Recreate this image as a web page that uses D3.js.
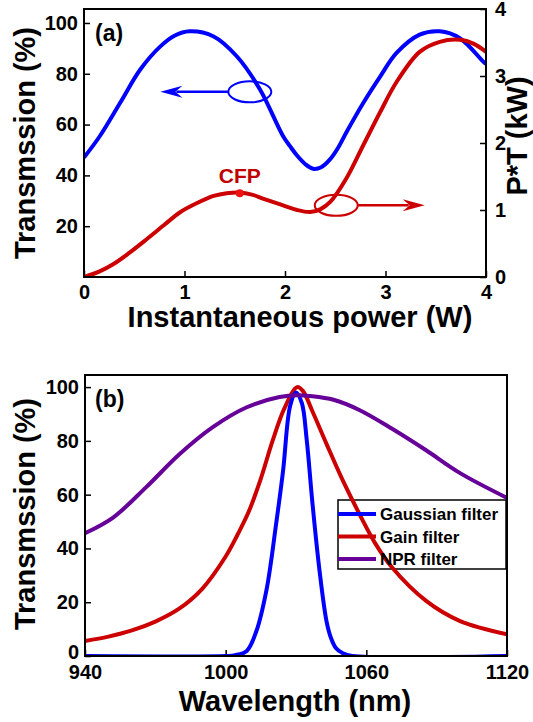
<!DOCTYPE html>
<html>
<head>
<meta charset="utf-8">
<script src="https://cdn.jsdelivr.net/npm/d3@7"></script>
<style>
  body { margin: 0; background: #fff; }
  text { font-family: 'Liberation Sans', Arial, sans-serif; font-weight: bold; }
</style>
</head>
<body>
<div id="chart"></div>
<script>
// ---- panel (a) data: transmission (%) and P*T (kW) vs instantaneous power (W)
const powerT = [0, 0.16, 0.36, 0.56, 0.76, 0.9, 1.05, 1.29, 1.52, 1.75, 1.98, 2.05, 2.12, 2.2, 2.28, 2.36, 2.45, 2.53, 2.61, 2.78, 2.95, 3.11, 3.34, 3.54, 3.74, 3.97, 4.0]
const transA = [47, 55.6, 68.6, 81.7, 90.8, 95, 96.7, 94.7, 86.9, 73.9, 55.5, 51.5, 47.8, 44.5, 42.6, 43.2, 46.4, 51, 56.9, 68.6, 79.1, 88.2, 95.4, 96.7, 94, 84.9, 83.8]

const powerPT = [0, 0.15, 0.29, 0.45, 0.62, 0.8, 0.96, 1.12, 1.29, 1.42, 1.55, 1.67, 1.78, 1.98, 2.12, 2.25, 2.35, 2.45, 2.61, 2.78, 2.95, 3.11, 3.34, 3.54, 3.74, 3.88, 4.0]
const ptKW = [0, 0.08, 0.19, 0.36, 0.56, 0.78, 0.97, 1.1, 1.21, 1.25, 1.26, 1.23, 1.17, 1.07, 1.0, 0.97, 1.01, 1.12, 1.47, 1.97, 2.47, 2.91, 3.36, 3.51, 3.54, 3.48, 3.36]

const cfp = { power: 1.55, kw: 1.25, label: 'CFP' }
// annotation ellipses (data units) and where their arrows point
const blueMark = { power: 1.65, trans: 72.9, tip: 0.76 }
const redMark = { power: 2.51, kw: 1.07, tip: 3.39 }

// ---- panel (b) data: filter transmission (%) vs wavelength (nm)
const gaussWl = [940, 1000, 1004, 1009, 1013, 1017.5, 1021.5, 1024.5, 1027.5, 1030, 1032.5, 1034.5, 1037, 1040, 1043, 1045, 1047, 1050, 1054, 1120]
const gaussT = [0, 0, 0.3, 1.9, 9, 25, 49, 69, 93, 98, 94, 81, 57, 32, 13, 6.5, 3, 1, 0, 0]

const gainWl = [940, 950, 960, 970, 980, 990, 1000, 1005, 1010, 1015, 1020, 1025, 1030.5, 1033, 1037, 1043, 1050, 1057, 1064, 1071, 1085.5, 1100, 1120]
const gainT = [5.6, 7.2, 9.5, 12.8, 17.5, 25, 37, 45, 54, 66, 80, 92, 100, 98.5, 91, 78.9, 65.2, 52.9, 41.6, 32.9, 20.5, 13, 8.1]

const nprWl = [940, 952, 966, 980.5, 994.5, 1009, 1023, 1031, 1036, 1046, 1057, 1071, 1085.5, 1100, 1120]
const nprT = [45.7, 51.5, 62.7, 75.2, 85.1, 92.5, 96.3, 97, 96.7, 95.3, 91.5, 84.5, 76.5, 68, 58.8]

const legendNames = ['Gaussian filter', 'Gain filter', 'NPR filter']
const legendColors = ['#0000ff', '#cc0000', '#660099']

// ticks
const powerTicks = [0, 1, 2, 3, 4]
const transTicksA = [20, 40, 60, 80, 100]
const ptTicks = [0, 1, 2, 3, 4]
const transTicksB = [0, 20, 40, 60, 80, 100]
const wlTicks = [940, 1000, 1060, 1120]

const width = 533
const height = 722

var svg = d3
  .select('#chart')
  .append('svg')
  .attr('width', width)
  .attr('height', height)

// Scales

var xA = d3.scaleLinear().domain([0, 4]).range([84, 486])
var yA = d3.scaleLinear().domain([0, 105.5]).range([277, 9])
var yA2 = d3.scaleLinear().domain([0, 4]).range([277, 9])

var xB = d3.scaleLinear().domain([940, 1120]).range([85, 507])
var yB = d3.scaleLinear().domain([0, 104.5]).range([656, 375])

var fmt = d3.format('d')

function styleAxis(g) {
  g.select('.domain').remove()
  g.selectAll('.tick line').attr('stroke', '#000').attr('stroke-width', 1.5)
  g.selectAll('.tick text').attr('font-size', 20).attr('fill', '#000')
}

// clip paths for plot areas
var defs = svg.append('defs')
defs.append('clipPath').attr('id', 'clipA')
  .append('rect')
  .attr('x', xA(0)).attr('y', yA2(4))
  .attr('width', xA(4) - xA(0)).attr('height', yA2(0) - yA2(4))
defs.append('clipPath').attr('id', 'clipB')
  .append('rect')
  .attr('x', xB(940)).attr('y', yB(104.5))
  .attr('width', xB(1120) - xB(940)).attr('height', yB(0) - yB(104.5))

function arrowHead(tipX, tipY, dir) {
  // dir = 1 points right, -1 points left
  return 'M' + tipX + ',' + tipY +
    'L' + (tipX - dir * 22) + ',' + (tipY - 6) +
    'L' + (tipX - dir * 15) + ',' + tipY +
    'L' + (tipX - dir * 22) + ',' + (tipY + 6) + 'Z'
}

/* ---------------- panel (a) ---------------- */

var gA = svg.append('g')

gA.append('g')
  .attr('transform', 'translate(0,' + yA2(0) + ')')
  .call(d3.axisBottom(xA).tickValues(powerTicks).tickFormat(fmt).tickSizeInner(-6).tickSizeOuter(0).tickPadding(8))
  .call(styleAxis)

gA.append('g')
  .attr('transform', 'translate(' + xA(0) + ',0)')
  .call(d3.axisLeft(yA).tickValues(transTicksA).tickFormat(fmt).tickSizeInner(-6).tickSizeOuter(0).tickPadding(6))
  .call(styleAxis)

gA.append('g')
  .attr('transform', 'translate(' + xA(4) + ',0)')
  .call(d3.axisRight(yA2).tickValues(ptTicks).tickFormat(fmt).tickSizeInner(-6).tickSizeOuter(0).tickPadding(9))
  .call(styleAxis)

var lineT = d3.line()
  .x(d => xA(d[0]))
  .y(d => yA(d[1]))
  .curve(d3.curveCatmullRom)

var linePT = d3.line()
  .x(d => xA(d[0]))
  .y(d => yA2(d[1]))
  .curve(d3.curveCatmullRom)

var plotA = gA.append('g').attr('clip-path', 'url(#clipA)')

plotA.append('path')
  .datum(d3.zip(powerT, transA))
  .attr('d', lineT)
  .attr('fill', 'none')
  .attr('stroke', '#0000ff')
  .attr('stroke-width', 4)

plotA.append('path')
  .datum(d3.zip(powerPT, ptKW))
  .attr('d', linePT)
  .attr('fill', 'none')
  .attr('stroke', '#cc0000')
  .attr('stroke-width', 4)

// CFP point
gA.append('circle')
  .attr('cx', xA(cfp.power))
  .attr('cy', yA2(cfp.kw))
  .attr('r', 4)
  .attr('fill', '#ee1111')

gA.append('text')
  .attr('x', xA(cfp.power))
  .attr('y', yA2(cfp.kw) - 10)
  .attr('text-anchor', 'middle')
  .attr('font-size', 21)
  .attr('fill', '#c00000')
  .text(cfp.label)

// blue ellipse + arrow to the left axis
var bx = xA(blueMark.power)
var by = yA(blueMark.trans)
gA.append('ellipse')
  .attr('cx', bx).attr('cy', by)
  .attr('rx', 21.5).attr('ry', 10.5)
  .attr('fill', 'none')
  .attr('stroke', '#0000ff')
  .attr('stroke-width', 2)
gA.append('line')
  .attr('x1', bx - 21.5).attr('y1', by)
  .attr('x2', xA(blueMark.tip) + 16).attr('y2', by)
  .attr('stroke', '#0000ff')
  .attr('stroke-width', 2.5)
gA.append('path')
  .attr('d', arrowHead(xA(blueMark.tip), by, -1))
  .attr('fill', '#0000ff')

// red ellipse + arrow to the right axis
var rx = xA(redMark.power)
var ry = yA2(redMark.kw)
gA.append('ellipse')
  .attr('cx', rx).attr('cy', ry)
  .attr('rx', 21.5).attr('ry', 10.5)
  .attr('fill', 'none')
  .attr('stroke', '#cc0000')
  .attr('stroke-width', 2)
gA.append('line')
  .attr('x1', rx + 21.5).attr('y1', ry)
  .attr('x2', xA(redMark.tip) - 16).attr('y2', ry)
  .attr('stroke', '#cc0000')
  .attr('stroke-width', 2.5)
gA.append('path')
  .attr('d', arrowHead(xA(redMark.tip), ry, 1))
  .attr('fill', '#cc0000')

// frame
gA.append('rect')
  .attr('x', xA(0)).attr('y', yA2(4))
  .attr('width', xA(4) - xA(0)).attr('height', yA2(0) - yA2(4))
  .attr('fill', 'none')
  .attr('stroke', '#000')
  .attr('stroke-width', 2)

gA.append('text')
  .attr('x', xA(0) + 11)
  .attr('y', 41)
  .attr('font-size', 23)
  .text('(a)')

gA.append('text')
  .attr('transform', 'translate(35,143) rotate(-90)')
  .attr('text-anchor', 'middle')
  .attr('font-size', 29)
  .text('Transmssion (%)')

gA.append('text')
  .attr('transform', 'translate(527,136) rotate(-90)')
  .attr('text-anchor', 'middle')
  .attr('font-size', 29)
  .text('P*T (kW)')

gA.append('text')
  .attr('x', 300)
  .attr('y', 327)
  .attr('text-anchor', 'middle')
  .attr('font-size', 29)
  .text('Instantaneous power (W)')

/* ---------------- panel (b) ---------------- */

var gB = svg.append('g')

gB.append('g')
  .attr('transform', 'translate(0,' + yB(0) + ')')
  .call(d3.axisBottom(xB).tickValues(wlTicks).tickFormat(fmt).tickSizeInner(-6).tickSizeOuter(0).tickPadding(9))
  .call(styleAxis)

gB.append('g')
  .attr('transform', 'translate(' + xB(940) + ',0)')
  .call(d3.axisLeft(yB).tickValues(transTicksB).tickFormat(fmt).tickSizeInner(-6).tickSizeOuter(0).tickPadding(6))
  .call(styleAxis)
  .call(g => g.selectAll('.tick text').filter(d => d === 0).attr('dy', '0.12em'))

var lineB = d3.line()
  .x(d => xB(d[0]))
  .y(d => yB(d[1]))
  .curve(d3.curveCatmullRom.alpha(0.5))

// legend box (drawn under the curves, no fill)
var legendX = 338
var legendY = 500
gB.append('rect')
  .attr('x', legendX).attr('y', legendY)
  .attr('width', 168).attr('height', 69)
  .attr('fill', 'none')
  .attr('stroke', '#000')
  .attr('stroke-width', 1.5)

var plotB = gB.append('g').attr('clip-path', 'url(#clipB)')

var seriesB = [
  d3.zip(gainWl, gainT),
  d3.zip(gaussWl, gaussT),
  d3.zip(nprWl, nprT)
]
var seriesColors = [legendColors[1], legendColors[0], legendColors[2]]

plotB.selectAll('path.filter')
  .data(seriesB)
  .enter()
  .append('path')
  .attr('class', 'filter')
  .attr('d', lineB)
  .attr('fill', 'none')
  .attr('stroke', (d, i) => seriesColors[i])
  .attr('stroke-width', 4)

var legendRows = gB.selectAll('g.legend-row')
  .data(legendNames)
  .enter()
  .append('g')
  .attr('class', 'legend-row')
  .attr('transform', (d, i) => 'translate(' + legendX + ',' + (legendY + 14 + i * 22.5) + ')')

legendRows.append('line')
  .attr('x1', 0).attr('x2', 38)
  .attr('stroke', (d, i) => legendColors[i])
  .attr('stroke-width', 4)

legendRows.append('text')
  .attr('x', 42)
  .attr('y', 6)
  .attr('font-size', 17)
  .text(d => d)

gB.append('rect')
  .attr('x', xB(940)).attr('y', yB(104.5))
  .attr('width', xB(1120) - xB(940)).attr('height', yB(0) - yB(104.5))
  .attr('fill', 'none')
  .attr('stroke', '#000')
  .attr('stroke-width', 2)

gB.append('text')
  .attr('x', xB(940) + 10)
  .attr('y', 407)
  .attr('font-size', 23)
  .text('(b)')

gB.append('text')
  .attr('transform', 'translate(35,514) rotate(-90)')
  .attr('text-anchor', 'middle')
  .attr('font-size', 29)
  .text('Transmssion (%)')

gB.append('text')
  .attr('x', 295)
  .attr('y', 711)
  .attr('text-anchor', 'middle')
  .attr('font-size', 29)
  .text('Wavelength (nm)')
</script>
</body>
</html>
